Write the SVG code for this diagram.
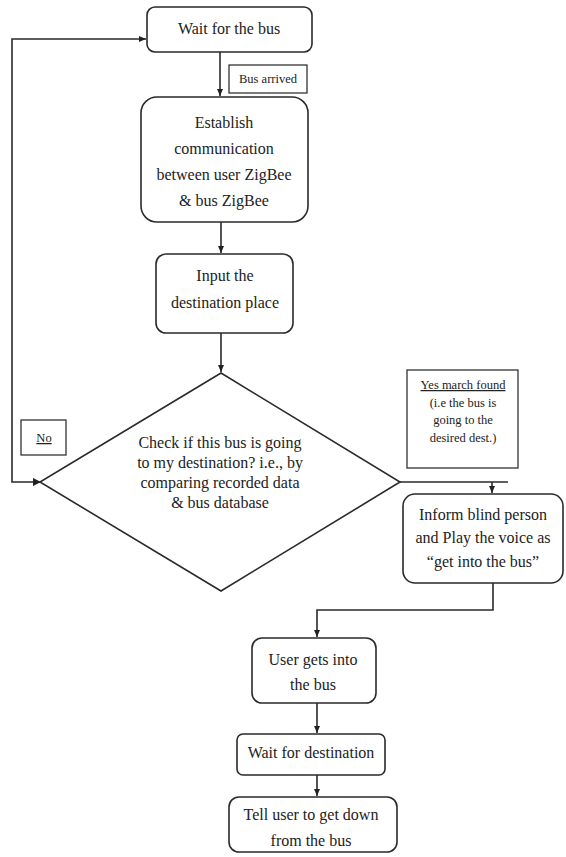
<svg xmlns="http://www.w3.org/2000/svg" width="566" height="857" viewBox="0 0 566 857">
<style>
.box{fill:#fff;stroke:#2a2a2a;stroke-width:1.6}
.lbl{fill:#fff;stroke:#333;stroke-width:1.3}
.t{font-family:"Liberation Serif","Times New Roman",serif;font-size:16px;fill:#222;text-anchor:middle}
.s{font-family:"Liberation Serif","Times New Roman",serif;font-size:12.5px;fill:#222;text-anchor:middle}
.c{fill:none;stroke:#2a2a2a;stroke-width:1.6}
</style>
<defs>
<marker id="ah" markerWidth="8" markerHeight="8" refX="7" refY="4" orient="auto" markerUnits="userSpaceOnUse">
<path d="M0,1 L7,4 L0,7 Z" fill="#222"/>
</marker>
</defs>
<rect width="566" height="857" fill="#fff"/>
<g id="connectors">
<path class="c" d="M220,52 V96" marker-end="url(#ah)"/>
<path class="c" d="M221,222 V253" marker-end="url(#ah)"/>
<path class="c" d="M221,333 V372" marker-end="url(#ah)"/>
<path class="c" d="M40,482 H12 V39 H146" marker-end="url(#ah)"/>
<path class="c" d="M400,482 H508"/>
<path class="c" d="M492,482 V493" marker-end="url(#ah)"/>
<path class="c" d="M493,583 V610 H317 V637" marker-end="url(#ah)"/>
<path class="c" d="M317,703 V733" marker-end="url(#ah)"/>
<path class="c" d="M317,775 V796" marker-end="url(#ah)"/>
<path d="M33,478 L41,482 L33,486 Z" fill="#222"/>
</g>
<g id="wait-bus">
<rect class="box" x="147" y="7" width="165" height="45" rx="8"/>
<text class="t" x="229" y="34">Wait for the bus</text>
</g>
<g id="bus-arrived">
<rect class="lbl" x="229" y="65" width="78" height="28"/>
<text class="s" x="268" y="83">Bus arrived</text>
</g>
<g id="establish">
<rect class="box" x="141" y="97" width="167" height="125" rx="16"/>
<text class="t" x="224" y="128">Establish</text>
<text class="t" x="224" y="154">communication</text>
<text class="t" x="224" y="180">between user ZigBee</text>
<text class="t" x="224" y="206">&amp; bus ZigBee</text>
</g>
<g id="input">
<rect class="box" x="156" y="254" width="137" height="79" rx="10"/>
<text class="t" x="225" y="281">Input the</text>
<text class="t" x="225" y="308">destination place</text>
</g>
<g id="decision">
<polygon class="box" points="221,373 400,482 221,591 40,482"/>
<text class="t" x="220" y="448">Check if this bus is going</text>
<text class="t" x="220" y="468">to my destination? i.e., by</text>
<text class="t" x="220" y="488">comparing recorded data</text>
<text class="t" x="220" y="508">&amp; bus database</text>
</g>
<g id="no-label">
<rect class="lbl" x="21" y="420" width="45" height="35"/>
<text class="s" x="44" y="442" text-decoration="underline">No</text>
</g>
<g id="yes-label">
<rect class="lbl" x="407" y="370" width="111" height="98"/>
<text class="s" x="463" y="389" text-decoration="underline">Yes march found</text>
<text class="s" x="463" y="407">(i.e the bus is</text>
<text class="s" x="463" y="424">going to the</text>
<text class="s" x="463" y="442">desired dest.)</text>
</g>
<g id="inform">
<rect class="box" x="403" y="494" width="160" height="89" rx="12"/>
<text class="t" x="483" y="520">Inform blind person</text>
<text class="t" x="483" y="543">and Play the voice as</text>
<text class="t" x="483" y="567">“get into the bus”</text>
</g>
<g id="user-gets">
<rect class="box" x="252" y="638" width="124" height="65" rx="10"/>
<text class="t" x="313" y="665">User gets into</text>
<text class="t" x="313" y="690">the bus</text>
</g>
<g id="wait-dest">
<rect class="box" x="237" y="734" width="148" height="41" rx="6"/>
<text class="t" x="311" y="758">Wait for destination</text>
</g>
<g id="tell-user">
<rect class="box" x="229" y="797" width="168" height="55" rx="10"/>
<text class="t" x="311" y="820">Tell user to get down</text>
<text class="t" x="311" y="846">from the bus</text>
</g>
</svg>
